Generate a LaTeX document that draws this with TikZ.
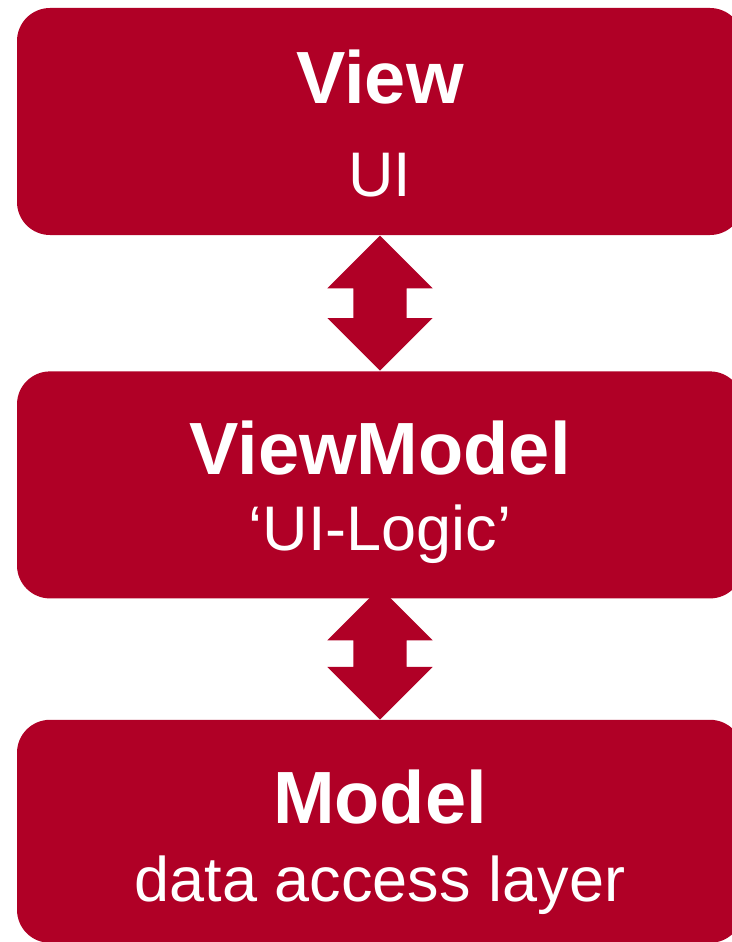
\documentclass[tikz,border=0pt]{standalone}
\usepackage{fontspec}
\setmainfont{Liberation Sans}
\usepackage{xcolor}
\usetikzlibrary{shapes,arrows,positioning,calc}

\definecolor{mvvmred}{RGB}{176,0,38}

\begin{document}
\begin{tikzpicture}
            \tikzstyle{layer} = [rectangle, fill=mvvmred, rounded corners=33pt, minimum width=726pt, minimum height=227pt, inner sep=0pt]
            \tikzstyle{title} = [text=white, inner sep=0pt, anchor=base, font=\fontsize{74}{80}\selectfont\bfseries]
            \tikzstyle{sub} = [text=white, inner sep=0pt, anchor=base, font=\fontsize{63}{70}\selectfont]
            \tikzstyle{link} = [shape=double arrow, fill=mvvmred, shape border rotate=90, double arrow head extend=26pt, inner sep=26.5pt]

            \useasboundingbox (0,0) rectangle (731pt,-942pt);

            \node [layer] (view) at (380pt,-121.5pt) {};
            \node [layer, below=136pt of view] (vm) {};
            \node [layer, below=121pt of vm, minimum height=223pt] (model) {};

            \node [title] (viewT) at ([yshift=-96pt]view.north) {View};
            \node [sub] (viewS) at ([yshift=-189pt]view.north) {UI};
            \node [title] (vmT) at ([yshift=-103pt]vm.north) {ViewModel};
            \node [sub] (vmS) at ([yshift=-179pt]vm.north) {‘UI-Logic’};
            \node [title] (modelT) at ([yshift=-104pt]model.north) {Model};
            \node [sub] (modelS) at ([yshift=-182pt]model.north) {data access layer};

            \node [link, minimum height=135pt] (a1) at ($(view.south)!0.5!(vm.north)$) {};
            \node [link, minimum height=132pt] (a2) at ([yshift=-55pt]vm.south) {};
        \end{tikzpicture}
\end{document}
